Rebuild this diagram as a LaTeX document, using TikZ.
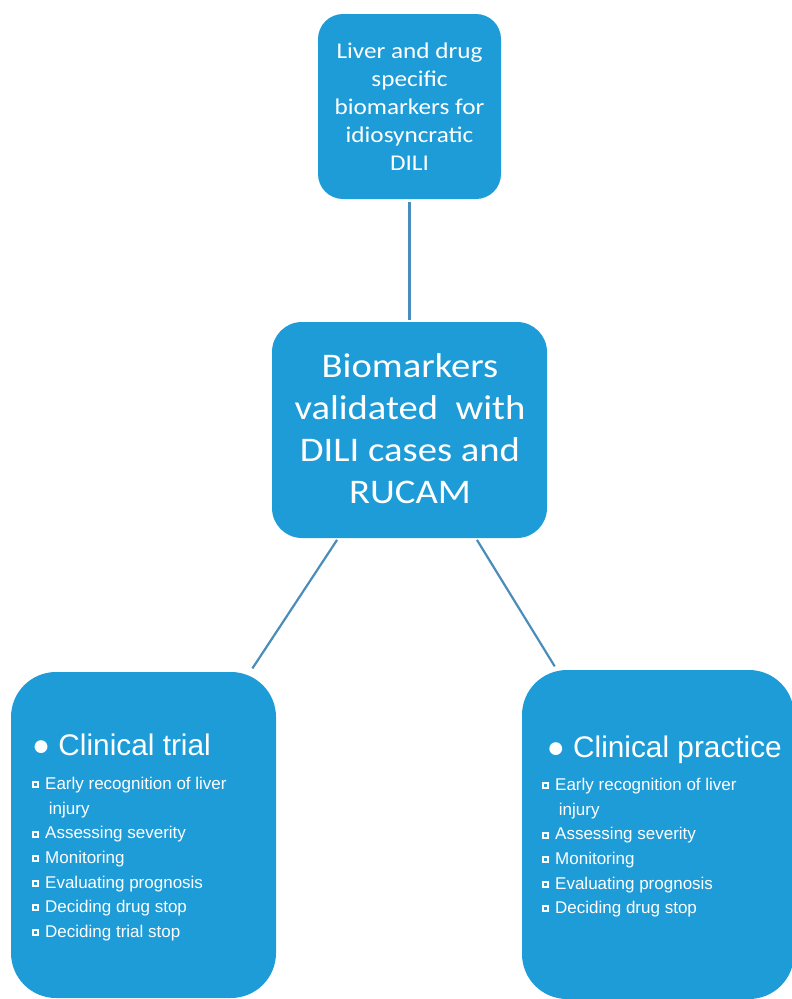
\documentclass[tikz,border=0pt]{standalone}
\usepackage{fontspec}
\setmainfont{Carlito}
\newfontfamily\widefont[FakeStretch=1.12]{Carlito}
\newfontfamily\arialfont{Liberation Sans}
\definecolor{boxblue}{HTML}{1E9CD8}
\definecolor{linkblue}{HTML}{4A8DBA}
% small square bullet of the lists
\newcommand{\sqbul}{\makebox[13.3pt][l]{\raisebox{1.2pt}{\color{white}\rule{7pt}{7pt}}\hspace{-5pt}\raisebox{3.2pt}{\color{boxblue}\rule{3pt}{3pt}}}}

\begin{document}
\begin{tikzpicture}[x=1pt, y=-1pt,
            bluebox/.style={fill=boxblue, inner sep=0pt},
            boxtext/.style={text=white, align=center, anchor=base, inner sep=0pt},
            link/.style={draw=linkblue, line width=2.2pt},
            listhead/.style={text=white, anchor=base west, inner sep=0pt, font=\arialfont\fontsize{29.8}{35}\selectfont},
            listitem/.style={text=white, anchor=base west, inner sep=0pt, font=\arialfont\fontsize{17}{20}\selectfont}]

            \useasboundingbox (0,0) rectangle (792,999);
            \clip (0,0) rectangle (792,999);

            % boxes
            \node[bluebox, rounded corners=25pt, minimum width=183pt, minimum height=185pt] (top) at (409.5,106.5) {};
            \node[bluebox, rounded corners=30pt, minimum width=275pt, minimum height=216pt] (mid) at (409.5,430) {};
            \node[bluebox, rounded corners=45pt, minimum width=265pt, minimum height=326pt] (trial) at (143.5,835) {};
            \node[bluebox, rounded corners=45pt, minimum width=272pt, minimum height=329pt] (practice) at (658,834.5) {};

            % texts (base = last line)
            \node[boxtext, font=\widefont\fontsize{22.5}{28}\selectfont] (toptext) at (409.5,170)
                {Liver and drug\\specific\\biomarkers for\\idiosyncratic\\DILI};
            \node[boxtext, font=\widefont\fontsize{34.5}{42}\selectfont] (midtext) at (410,503)
                {Biomarkers\\validated\ \ with\\DILI cases and\\RUCAM};

            \node[listhead] (trialhead) at (32,755) {● Clinical trial};
            \foreach \txt [count=\i] in {{\sqbul Early recognition of liver}, {\hspace*{17pt}injury},
                    {\sqbul Assessing severity}, {\sqbul Monitoring}, {\sqbul Evaluating prognosis},
                    {\sqbul Deciding drug stop}, {\sqbul Deciding trial stop}}
                \node[listitem] (trial\i) at (31.7,{765+24.6*\i}) {\txt};

            \node[listhead] (practicehead) at (546.7,757) {● Clinical practice};
            \foreach \txt [count=\i] in {{\sqbul Early recognition of liver}, {\hspace*{17pt}injury},
                    {\sqbul Assessing severity}, {\sqbul Monitoring}, {\sqbul Evaluating prognosis},
                    {\sqbul Deciding drug stop}}
                \node[listitem] (practice\i) at (541.7,{766+24.6*\i}) {\txt};

            % connectors
            \draw[link, shorten <=3pt, shorten >=2pt] (top) -- (mid);
            \draw[link, shorten <=2pt, shorten >=4pt] (mid) -- (trial);
            \draw[link, shorten <=2pt, shorten >=4pt] (mid) -- (practice);
        \end{tikzpicture}
\end{document}
